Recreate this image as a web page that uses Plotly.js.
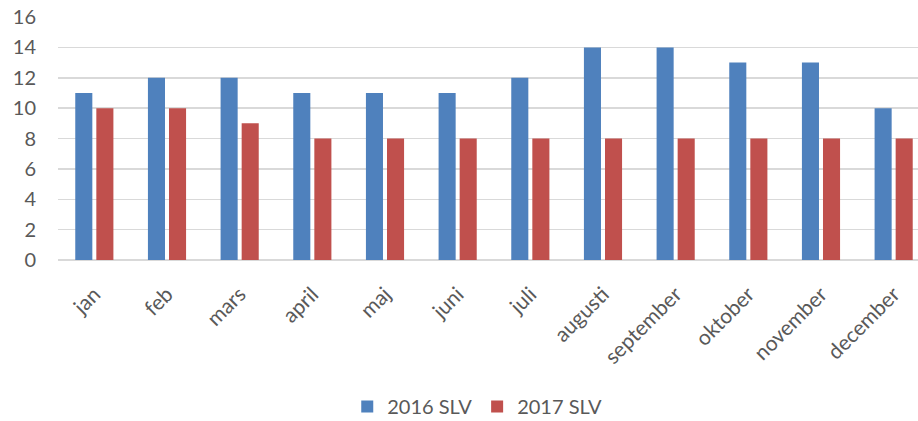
<!DOCTYPE html>
<html><head><meta charset="utf-8">
<script src="https://cdn.plot.ly/plotly-3.0.1.min.js"></script>
<style>html,body{margin:0;padding:0;background:#fff}#chart{width:918px;height:421px}</style>
</head><body><div id="chart"></div>
<script>
const months = ["jan","feb","mars","april","maj","juni","juli","augusti","september","oktober","november","december"];
const slv2016 = [11,12,12,11,11,11,12,14,14,13,13,10];
const slv2017 = [10,10,9,8,8,8,8,8,8,8,8,8];
const yTicks = [0,2,4,6,8,10,12,14,16];

const font = {family: "Lato, 'Open Sans', sans-serif", color: "#595959"};
const data = [
  {type: "bar", name: "2016 SLV", x: months, y: slv2016, marker: {color: "#4F81BD"}, hoverinfo: "none"},
  {type: "bar", name: "2017 SLV", x: months, y: slv2017, marker: {color: "#C0504D"}, hoverinfo: "none"}
];
const layout = {
  width: 918, height: 421,
  margin: {l: 57.5, r: 0, t: 17.3, b: 161, autoexpand: false},
  paper_bgcolor: "#fff", plot_bgcolor: "#fff",
  barmode: "group", bargap: 0.42, bargroupgap: 0.19,
  showlegend: true,
  legend: {orientation: "h", x: 0.4875, xanchor: "center", y: -0.603, yanchor: "middle",
           font: Object.assign({size: 20}, font)},
  xaxis: {type: "category", range: [-0.5, 11.335], tickangle: -45, showgrid: false,
          automargin: false,
          showline: false, zeroline: false, ticks: "", ticklabelstandoff: 17,
          tickfont: Object.assign({size: 21}, font)},
  yaxis: {range: [0, 16], tickvals: yTicks, ticktext: yTicks.map(String),
          automargin: false,
          showgrid: true, gridcolor: "#d9d9d9", gridwidth: 1.5,
          zeroline: true, zerolinecolor: "#d9d9d9", zerolinewidth: 1.5,
          showline: false, ticks: "", ticklabelstandoff: 21,
          tickfont: Object.assign({size: 20}, font)},
  font: font
};
Plotly.newPlot("chart", data, layout, {displayModeBar: false, staticPlot: true});
</script></body></html>
